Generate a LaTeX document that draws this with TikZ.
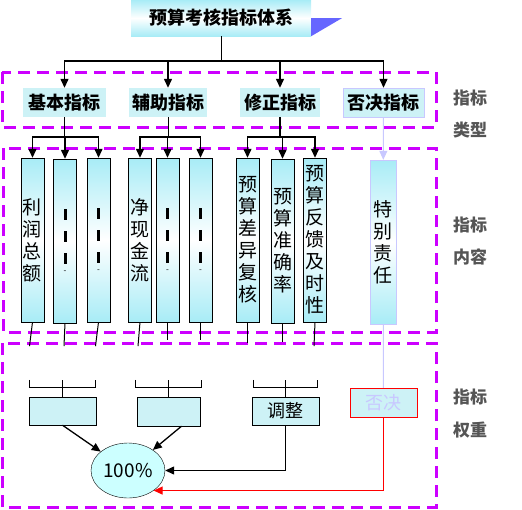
\documentclass[tikz,border=0pt]{standalone}
\usepackage{fontspec}
\setmainfont{Noto Sans CJK SC}
\usetikzlibrary{shapes.geometric, arrows.meta}
\definecolor{zonecol}{RGB}{204,0,255}
\definecolor{cyanedge}{RGB}{168,236,246}
\definecolor{dotfill}{RGB}{205,242,246}
\definecolor{lav}{RGB}{200,200,255}
\definecolor{tipblue}{RGB}{102,102,255}
\definecolor{ovalfill}{RGB}{204,255,255}
\definecolor{labgrey}{RGB}{85,85,85}
\newcommand{\dashbar}{\rule{3pt}{11pt}}
\tikzstyle{title} = [rectangle, minimum width=180pt, minimum height=36pt, inner sep=0pt, top color=cyanedge, bottom color=cyanedge, middle color=white, font=\fontsize{18}{20}\selectfont\bfseries]
\tikzstyle{kind} = [rectangle, minimum height=29pt, inner sep=0pt, fill=dotfill, font=\fontsize{18}{20}\selectfont\bfseries]
\tikzstyle{item} = [rectangle, draw, minimum width=23pt, minimum height=164pt, inner sep=0pt, top color=cyanedge, bottom color=cyanedge, middle color=white, align=center, font=\fontsize{19}{22}\selectfont]
\tikzstyle{weight} = [rectangle, draw, minimum width=67pt, minimum height=28pt, inner sep=0pt, fill=dotfill, font=\fontsize{18}{20}\selectfont]
\tikzstyle{zone} = [draw=zonecol, line width=3pt, dash pattern=on 12pt off 7pt]
\tikzstyle{side} = [text=labgrey, font=\fontsize{17}{19}\selectfont\bfseries]
\tikzstyle{arrow} = [line width=1.3pt, -{Triangle[width=8pt,length=9pt]}]
\tikzstyle{line} = [line width=1pt]
\begin{document}
\begin{tikzpicture}[x=1pt, y=-1pt]
\useasboundingbox (0,0) rectangle (522,509);
% zones
\draw [zone] (2,72) rectangle (436,127);
\draw [zone] (3,148) rectangle (436,332);
\draw [zone] (2,343) rectangle (436,507);
\node [side] at (470,98) (s1a) {指标};
\node [side] at (470,130) (s1b) {类型};
\node [side] at (470,225) (s2a) {指标};
\node [side] at (470,257) (s2b) {内容};
\node [side] at (470,397) (s3a) {指标};
\node [side] at (470,430) (s3b) {权重};
% top
\node [title] at (221,18) (top) {预算考核指标体系};
\fill [tipblue] (top.east) -- ++(31,0) -- (top.south east) -- cycle;
\node [kind, minimum width=83pt] at (64.5,102.5) (jb) {基本指标};
\node [kind, minimum width=78pt] at (168,102.5) (fz) {辅助指标};
\node [kind, minimum width=80pt] at (280,102.5) (xz) {修正指标};
\node [kind, minimum width=81pt, draw=lav] at (383.5,102.5) (fj) {否决指标};
\coordinate (toph) at (221,61);
\draw [line] (top) -- (toph);
\foreach \k in {jb,fz,xz,fj}
  \draw [arrow] (toph) -| (\k);
% items
\node [item] at (32.5,240) (c1) {利\\润\\总\\额};
\node [item] at (65,241) (c2) {\dashbar\\\dashbar\\\dashbar\\[-12pt]{\fontsize{8}{8}\selectfont -}};
\node [item] at (98.5,240) (c3) {\dashbar\\\dashbar\\\dashbar\\[-12pt]{\fontsize{8}{8}\selectfont -}};
\node [item] at (140,240) (c4) {净\\现\\金\\流};
\node [item] at (167.5,240) (c5) {\dashbar\\\dashbar\\\dashbar\\[-12pt]{\fontsize{8}{8}\selectfont -}};
\node [item] at (200.5,240) (c6) {\dashbar\\\dashbar\\\dashbar\\[-12pt]{\fontsize{8}{8}\selectfont -}};
\node [item] at (247.5,240) (c7) {预\\算\\差\\异\\复\\核};
\node [item] at (282.5,241) (c8) {预\\算\\准\\确\\率};
\node [item] at (315,240) (c9) {预\\算\\反\\馈\\及\\时\\性};
\node [item, draw=lav, minimum width=26pt] at (383,242) (c10) {特\\别\\责\\任};
\coordinate (jbh) at (jb.south |- 0,137);
\coordinate (fzh) at (fz.south |- 0,137);
\coordinate (xzh) at (xz.south |- 0,137);
\draw [line] (jb) -- (jbh);
\draw [line] (fz) -- (fzh);
\draw [line, line width=1.6pt] (xz) -- (xzh);
\foreach \c in {c1,c2,c3}
  \draw [arrow] (jbh) -| (\c);
\foreach \c in {c4,c5,c6}
  \draw [arrow] (fzh) -| (\c);
\foreach \c in {c7,c8,c9}
  \draw [arrow] (xzh) -| (\c);
\draw [arrow, lav, line width=1pt] (fj) -- (c10);
\foreach \c/\dx/\dy in {c1/-3/24, c2/-1/23, c3/-3/24, c4/-2/24, c5/0/18, c6/0/18, c7/0/21, c8/0/19, c9/-1/24}
  \draw [line] (\c.south) -- ++(\dx,\dy);
% weights
\node [weight] at (62.5,411) (bx1) {};
\node [weight, minimum width=63pt, minimum height=29pt] at (168.5,411.5) (bx2) {};
\node [weight] at (285.5,411) (tz) {调整};
\node [weight, draw=red, text=lav, minimum height=29pt] at (383.5,402.5) (veto) {否决};
\draw [lav, line width=1pt] (c10) -- (veto);
\foreach \b/\w in {bx1/33, bx2/33, tz/32} {
  \draw [line] (\b.north) -- ++(0,-9) coordinate (m) -- ++(0,-8);
  \draw [line] (m) ++(-\w,-8) -- ++(0,8) -- ++({2*\w},0) -- ++(0,-8);
}
\node [ellipse, draw, fill=ovalfill, minimum width=74pt, minimum height=55pt, inner sep=0pt, font=\fontsize{19}{21}\selectfont] at (128,470.5) (total) {100\%};
\draw [arrow] (bx1.south) -- (total);
\draw [arrow] ([xshift=13pt]bx2.south) -- (total);
\draw [arrow] (tz.south) |- (total.east);
\draw [arrow, red] (veto.south) |- (total.-38);
\end{tikzpicture}
\end{document}
